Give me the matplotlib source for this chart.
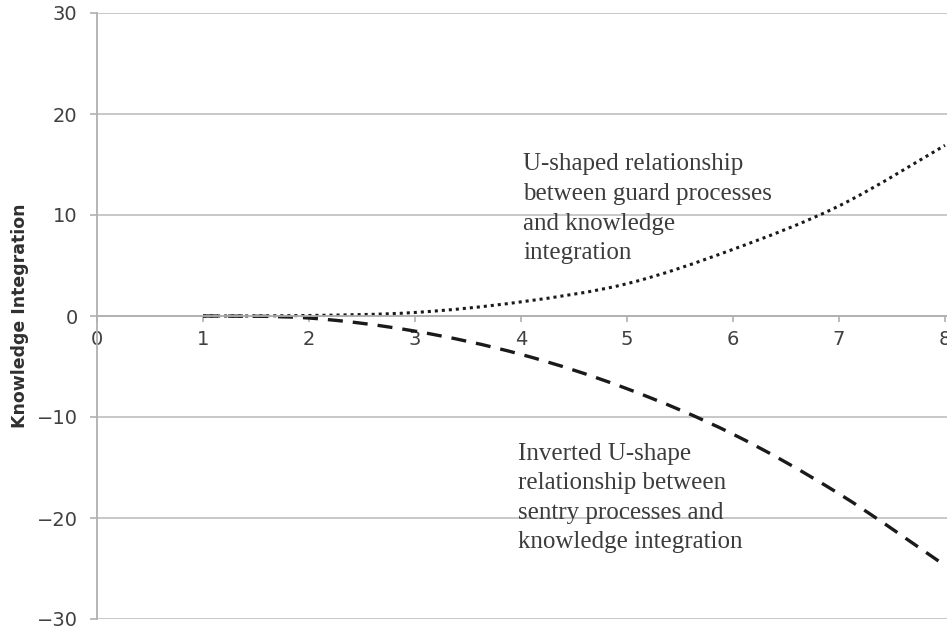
import numpy as np
import matplotlib
matplotlib.use("Agg")
import matplotlib.pyplot as plt
from matplotlib.path import Path
from matplotlib.patches import PathPatch

# values
x_vals = [1, 2, 3, 4, 5, 6, 7, 8]
guard = [0, 0.05, 0.35, 1.4, 3.2, 6.6, 10.9, 16.9]
sentry = [0, -0.2, -1.5, -3.8, -7.2, -11.7, -17.6, -24.7]
x_ticks = [0, 1, 2, 3, 4, 5, 6, 7, 8]
y_ticks = [-30, -20, -10, 0, 10, 20, 30]

guard_note = "U-shaped relationship\nbetween guard processes\nand knowledge\nintegration"
sentry_note = "Inverted U-shape\nrelationship between\nsentry processes and\nknowledge integration"


def smooth_path(xs, ys):
    # excel-style smoothed line: catmull-rom turned into cubic bezier segments
    pts = np.column_stack([xs, ys]).astype(float)
    n = len(pts)
    verts = [pts[0]]
    codes = [Path.MOVETO]
    for i in range(n - 1):
        p0 = pts[max(i - 1, 0)]
        p1 = pts[i]
        p2 = pts[i + 1]
        p3 = pts[min(i + 2, n - 1)]
        verts += [p1 + (p2 - p0) / 6, p2 - (p3 - p1) / 6, p2]
        codes += [Path.CURVE4] * 3
    return Path(verts, codes)


fig = plt.figure(figsize=(9.47, 6.32), dpi=100)
ax = fig.add_axes([97 / 947, 13 / 632, 850 / 947, 606 / 632])
ax.set_xlim(0, 850 / 106)
ax.set_ylim(-30, 30)

grid_col = "#c4c4c4"
text_col = "#404040"

for s in ["top", "right"]:
    ax.spines[s].set_visible(False)
ax.spines["bottom"].set_position(("data", 0))
ax.spines["left"].set_color("#b0b0b0")
ax.spines["bottom"].set_color("#b0b0b0")
ax.spines["left"].set_linewidth(1.3)
ax.spines["bottom"].set_linewidth(1.3)

ax.set_yticks(y_ticks)
ax.set_yticklabels([str(v).replace("-", "\u2212") for v in y_ticks])
ax.set_xticks(x_ticks)
ax.set_xticklabels([str(v) for v in x_ticks])
ax.yaxis.grid(True, color=grid_col, linewidth=1.3)
ax.set_axisbelow(True)
ax.tick_params(axis="y", length=5, width=1.2, color="#b0b0b0", pad=9,
               labelsize=14, labelcolor=text_col)
ax.tick_params(axis="x", direction="out", length=4, width=1.2, color="#b0b0b0",
               pad=6, labelsize=14, labelcolor=text_col)

ax.set_ylabel("Knowledge Integration", fontsize=12.5, fontweight="bold",
              color="#303030")
ax.yaxis.set_label_coords(-68 / 850, 0.5)

ax.add_patch(PathPatch(smooth_path(x_vals, guard), fill=False, edgecolor="#1a1a1a",
                       linewidth=2.2, linestyle=(0, (1, 1.3))))
ax.add_patch(PathPatch(smooth_path(x_vals, sentry), fill=False, edgecolor="#1a1a1a",
                       linewidth=2.4, linestyle=(0, (4.5, 3))))

ax.text(4.02, 16.1, guard_note, ha="left", va="top", fontsize=18,
        family="Liberation Serif", color="#3c3c3c", linespacing=1.45)
ax.text(3.97, -12.6, sentry_note, ha="left", va="top", fontsize=18,
        family="Liberation Serif", color="#3c3c3c", linespacing=1.42)

fig.savefig("out.png", dpi=100)
